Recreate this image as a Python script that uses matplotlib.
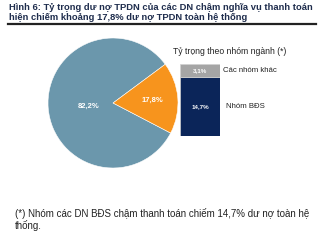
import matplotlib.pyplot as plt
from matplotlib.lines import Line2D

# data
pie_labels = ["82,2%", "17,8%"]
pie_values = [82.2, 17.8]
pie_colors = ["#6B97AC", "#F7941D"]

bar_names = ["Nhóm BĐS", "Các nhóm khác"]
bar_values = [14.7, 3.1]
bar_texts = ["14,7%", "3,1%"]
bar_colors = ["#0B2559", "#A5A5A5"]

title = ("Hình 6: Tỷ trọng dư nợ TPDN của các DN chậm nghĩa vụ thanh toán\n"
         "hiện chiếm khoảng 17,8% dư nợ TPDN toàn hệ thống")
note = ("(*) Nhóm các DN BĐS chậm thanh toán chiếm 14,7% dư nợ toàn hệ\n"
        "thống.")

W, H = 326, 245
fig = plt.figure(figsize=(W / 100, H / 100), dpi=100)
plt.rcParams["font.family"] = ["Liberation Sans", "DejaVu Sans"]

# title
fig.text(9 / W, 1 - 3 / H, title, ha="left", va="top", fontsize=6.75,
         fontweight="bold", color="#1F2D4D", linespacing=1.2)
fig.add_artist(Line2D([8 / W, 316 / W], [1 - 24 / H, 1 - 24 / H],
                      color="#222222", lw=1.6))

# pie
cx, cy, r = 113, 103, 65
ax1 = fig.add_axes([(cx - r) / W, (H - cy - r) / H, 2 * r / W, 2 * r / H])
# orange wedge centred near 4.5 degrees
start = 4.5 + pie_values[1] / 100 * 360 / 2
ax1.pie(pie_values, colors=pie_colors, startangle=start,
        counterclock=True, radius=1,
        wedgeprops=dict(edgecolor="white", linewidth=0.4))
ax1.set_xlim(-1, 1)
ax1.set_ylim(-1, 1)
ax1.set_aspect("equal")
ax1.text(-0.38, -0.05, pie_labels[0], color="white", fontsize=5.5,
         fontweight="bold", ha="center", va="center")
ax1.text(0.6, 0.04, pie_labels[1], color="white", fontsize=5.5,
         fontweight="bold", ha="center", va="center")

# stacked bar
ax2 = fig.add_axes([180 / W, (H - 136) / H, 40 / W, 72 / H])
bottom = 0
for v, c, t, name in zip(bar_values, bar_colors, bar_texts, bar_names):
    ax2.bar(0, v, bottom=bottom, width=1, color=c, edgecolor="#D0D0D0",
            linewidth=0.5)
    ax2.text(0, bottom + v / 2, t, color="white", fontsize=4.5,
             fontweight="bold", ha="center", va="center")
    ax2.text(0.58 if name != "Nhóm BĐS" else 0.65, bottom + v / 2, name,
             fontsize=5.6, color="#222222", ha="left", va="center")
    bottom += v
ax2.set_xlim(-0.5, 0.5)
ax2.set_ylim(0, sum(bar_values))
ax2.axis("off")

fig.text(173 / W, 1 - 52 / H, "Tỷ trọng theo nhóm ngành (*)", fontsize=6.2,
         color="#222222", ha="left", va="center")

# footnote
fig.text(15 / W, 1 - 208 / H, note, fontsize=7, color="#222222",
         ha="left", va="top", linespacing=1.1)

fig.savefig("out.png", dpi=100)
